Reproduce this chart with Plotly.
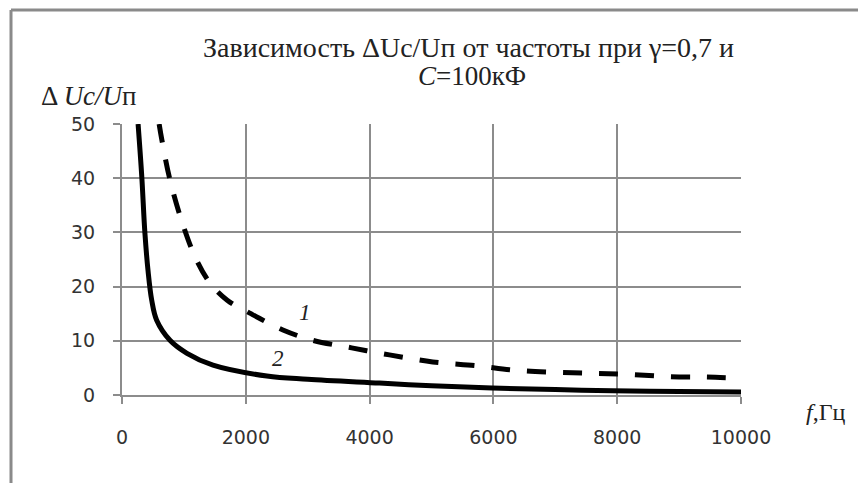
import plotly.graph_objects as go

# Curve 1 (dashed)
f1 = [600, 645, 775, 985, 1200, 1420, 1700, 2065, 2600, 3080, 3710, 4320, 5020, 5730, 6310, 6950, 7580, 8190, 8840, 9450, 10000]
u1 = [50, 47, 39.7, 31.4, 25, 20.7, 17.5, 15.1, 12, 10.1, 8.7, 7.4, 6.1, 5.4, 4.6, 4.2, 4.0, 3.8, 3.4, 3.3, 3.1]
# Curve 2 (solid)
f2 = [260, 320, 370, 420, 480, 560, 775, 1050, 1470, 2340, 3000, 4160, 5000, 5980, 7000, 7920, 9000, 10000]
u2 = [50, 40.2, 29.9, 23, 17.5, 13.8, 10.1, 7.7, 5.5, 3.5, 2.9, 2.2, 1.7, 1.3, 1.0, 0.8, 0.65, 0.55]

x_ticks = [0, 2000, 4000, 6000, 8000, 10000]
y_ticks = [0, 10, 20, 30, 40, 50]

OFF = 8  # page body margin
W, H = 866 - OFF, 483 - OFF
L, R, T, B = 122 - OFF, 125, 124 - OFF, 88
pw = W - L - R
ph = H - T - B

def px(xp):
    return (xp - OFF - L) / pw

def py(yp):
    return (H - B - (yp - OFF)) / ph

fig = go.Figure()
fig.add_trace(go.Scatter(x=f1, y=u1, mode="lines", line=dict(color="black", width=5, dash="19px,17px", shape="spline"),
                         showlegend=False, cliponaxis=True))
fig.add_trace(go.Scatter(x=f2, y=u2, mode="lines", line=dict(color="black", width=5, shape="spline"),
                         showlegend=False, cliponaxis=True))

grid = "#8c8c8c"
tickfont = dict(family="DejaVu Sans", size=19, color="#333333")
fig.update_xaxes(range=[0, 10000], tickvals=x_ticks, ticktext=[str(v) for v in x_ticks],
                 showgrid=True, gridcolor=grid, gridwidth=2, showline=True, linecolor=grid, linewidth=2,
                 ticks="outside", ticklen=7, tickwidth=2, tickcolor=grid, tickfont=tickfont,
                 ticklabelstandoff=17, zeroline=False)
fig.update_yaxes(range=[0, 50], tickvals=y_ticks, ticktext=[str(v) for v in y_ticks],
                 showgrid=True, gridcolor=grid, gridwidth=2, showline=True, linecolor=grid, linewidth=2,
                 ticks="outside", ticklen=7, tickwidth=2, tickcolor=grid, tickfont=tickfont,
                 ticklabelstandoff=14, zeroline=False)

serif = "Liberation Serif"
ann = [
    dict(text="Зависимость ΔUc/Uп от частоты при γ=0,7 и", x=px(469), y=py(47), size=28),
    dict(text="<i>C</i>=100кФ", x=px(472), y=py(76), size=27),
    dict(text="Δ <i>Uc/U</i>п", x=px(89), y=py(96), size=27),
    dict(text="<i>f</i>,Гц", x=px(826), y=py(412), size=24),
    dict(text="<i>1</i>", x=px(305), y=py(312), size=23),
    dict(text="<i>2</i>", x=px(278), y=py(358), size=23),
]
annotations = []
for a in ann:
    annotations.append(dict(text=a["text"], x=a["x"], y=a["y"], xref="paper", yref="paper",
                            xanchor="center", yanchor="middle", showarrow=False,
                            font=dict(family=serif, size=a["size"], color="#222222")))

shapes = [
    dict(type="line", xref="paper", yref="paper", x0=px(11), x1=px(880), y0=py(10), y1=py(10),
         line=dict(color="#8a8a8a", width=3)),
    dict(type="line", xref="paper", yref="paper", x0=px(11), x1=px(11), y0=py(10), y1=py(495),
         line=dict(color="#8a8a8a", width=3)),
]

fig.update_layout(width=W, height=H, margin=dict(l=L, r=R, t=T, b=B),
                  paper_bgcolor="white", plot_bgcolor="white",
                  annotations=annotations, shapes=shapes, showlegend=False)

fig.write_html("out.html")
